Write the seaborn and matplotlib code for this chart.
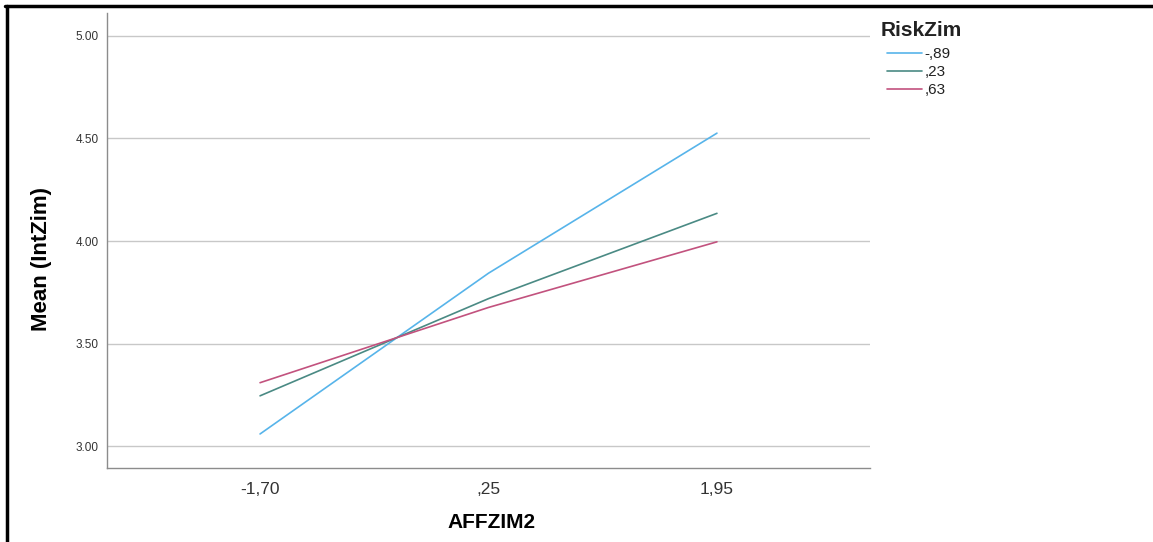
import matplotlib
matplotlib.use("Agg")
import matplotlib.pyplot as plt
import seaborn as sns
import pandas as pd
from matplotlib.lines import Line2D

# ---- data ----
affzim2 = ["-1,70", ",25", "1,95"]
risk_levels = ["-,89", ",23", ",63"]
mean_low = [3.059, 3.843, 4.526]   # RiskZim -,89
mean_mid = [3.245, 3.719, 4.135]   # RiskZim ,23
mean_high = [3.309, 3.676, 3.996]  # RiskZim ,63
y_ticks = [3.00, 3.50, 4.00, 4.50, 5.00]

rows = []
for lvl, vals in zip(risk_levels, [mean_low, mean_mid, mean_high]):
    for x, v in zip(affzim2, vals):
        rows.append({"AFFZIM2": x, "RiskZim": lvl, "Mean": v})
df = pd.DataFrame(rows)

sns.set_theme(style="white")
plt.rcParams['font.family'] = ['Liberation Sans', 'DejaVu Sans']

fig = plt.figure(figsize=(11.53, 5.42), dpi=100)
ax = fig.add_axes([107/1153, 1-468/542, (870-107)/1153, (468-13)/542])

palette = {"-,89": "#57b4ea", ",23": "#4a8a84", ",63": "#c2527e"}
sns.lineplot(data=df, x="AFFZIM2", y="Mean", hue="RiskZim", hue_order=risk_levels,
             palette=palette, sort=False, linewidth=1.2, ax=ax, legend=True)

ax.set_xlim(-0.67, 2.67)
ax.set_ylim(2.893, 5.112)
ax.set_yticks(y_ticks)
ax.set_yticklabels([f"{t:.2f}" for t in y_ticks], fontsize=8.5, color="#333333")
ax.tick_params(axis='x', labelsize=12.5, colors="#333333", length=0, pad=10)
ax.tick_params(axis='y', length=0, pad=6)
ax.grid(axis='y', color="#c8c8c8", linewidth=1.0)
ax.set_axisbelow(True)
for s in ["top", "right"]:
    ax.spines[s].set_visible(False)
for s in ["left", "bottom"]:
    ax.spines[s].set_color("#8c8c8c")
    ax.spines[s].set_linewidth(1.0)

ax.set_xlabel("AFFZIM2", fontsize=15, fontweight="bold", color="black")
ax.set_ylabel("Mean (IntZim)", fontsize=16, fontweight="bold", color="black")
ax.xaxis.set_label_coords((492-107)/763, -(523-468)/455)
ax.yaxis.set_label_coords(-(107-42)/763, 1-(259-13)/455)
ax.xaxis.label.set_va("center")
ax.yaxis.label.set_va("center")

handles, labels = ax.get_legend_handles_labels()
ax.legend_.remove()
fig.text(881/1153, 1-30/542, "RiskZim", fontsize=15, fontweight="bold",
         color="#222222", ha="left", va="center")
leg = fig.legend(handles, labels, loc="upper left",
                 bbox_to_anchor=(887/1153, 1-47/542), frameon=False,
                 fontsize=11, handlelength=2.3,
                 handletextpad=0.15, labelspacing=0.27, borderaxespad=0, borderpad=0)
for t in leg.get_texts():
    t.set_color("#222222")

# outer border (top and left)
fig.add_artist(Line2D([5/1153, 1], [1-6/542, 1-6/542], color="black", linewidth=2.5,
                      transform=fig.transFigure))
fig.add_artist(Line2D([6.5/1153, 6.5/1153], [0, 1-6/542], color="black", linewidth=2.5,
                      transform=fig.transFigure))

fig.savefig("out.png", dpi=100, facecolor="white")
